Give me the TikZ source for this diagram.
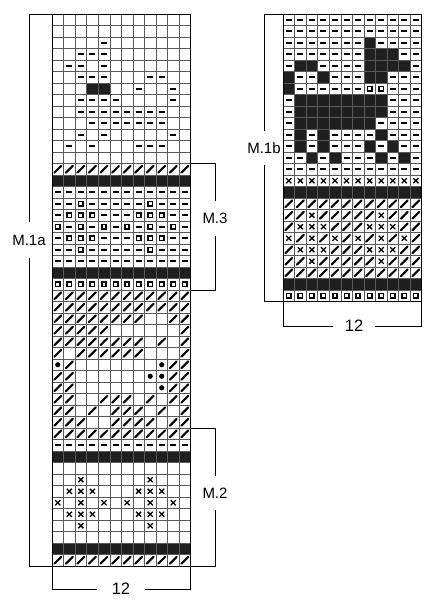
\documentclass[tikz,border=0pt]{standalone}
\usepackage{fontspec}
\setmainfont{Liberation Sans}
\tikzset{
  gridline/.style={black!65, line width=0.5pt},
  chartframe/.style={black, line width=0.9pt},
  bracket/.style={black, line width=0.8pt},
  chartlabel/.style={inner sep=0pt, font=\fontsize{15}{18}\selectfont},
  widthlabel/.style={inner sep=0pt, font=\fontsize{16.5}{19}\selectfont},
  pics/knitdash/.style={code={\draw[line width=2.4pt] (-0.26,0) -- (0.26,0);}},
  pics/knitslash/.style={code={\draw[line width=2.1pt, line cap=round] (-0.3,0.3) -- (0.3,-0.3);}},
  pics/knitblack/.style={code={\fill[black!88] (-0.5,-0.5) rectangle (0.5,0.5);}},
  pics/knitsquare/.style={code={\draw[line width=1.6pt] (-0.19,-0.19) rectangle (0.19,0.19);}},
  pics/knitcross/.style={code={\draw[line width=1.3pt] (-0.22,-0.22) -- (0.22,0.22) (-0.22,0.22) -- (0.22,-0.22);}},
  pics/knitdot/.style={code={\fill (0,0) circle (2.6pt);}},
}
% one symbol in many cells: row/{columns}
\newcommand\knitcells[2]{\foreach \r/\cols in {#2} {\foreach \c in \cols {\pic at (\c-0.5,\r-0.5) {#1};}}}
% grid of 12 columns and #1 rows
\newcommand\knitgrid[1]{%
  \foreach \c in {0,...,12} \draw[gridline] (\c,0) -- (\c,#1);
  \foreach \r in {0,...,#1} \draw[gridline] (0,\r) -- (12,\r);
  \draw[chartframe] (0,0) rectangle (12,#1);}

\begin{document}
\begin{tikzpicture}[x=1pt, y=-1pt]
\useasboundingbox (0,0) rectangle (433,601);
% M.1a chart
\begin{scope}[shift={(52,14)}, x=11.55pt, y=-11.5pt]
\knitcells{knitblack}{7/{4,5}, 15/{1,...,12}, 23/{1,...,12}, 39/{1,...,12}, 47/{1,...,12}}
\knitgrid{48}
\knitcells{knitdash}{3/{5}, 4/{3,4,5}, 5/{2,3,5}, 6/{3,4,5,9,10}, 7/{8,11}, 8/{3,4,5,6,11},
  9/{3,...,10}, 10/{4,...,10}, 11/{3,5,11}, 12/{2,4,8,9,10}, 16/{1,...,12},
  17/{1,2,4,5,6,7,8,10,11,12}, 18/{1,5,6,7,11,12}, 19/{2,4,6,8,10,12}, 20/{1,5,6,7,11,12},
  21/{1,2,4,5,6,7,8,10,11,12}, 22/{1,...,12}, 38/{1,...,12}}
\knitcells{knitsquare}{17/{3,9}, 18/{2,3,4,8,9,10}, 19/{1,3,5,7,9,11}, 20/{2,3,4,8,9,10}, 21/{3,9}, 24/{1,...,12}}
\knitcells{knitslash}{14/{1,...,12}, 25/{1,...,12}, 26/{1,...,12}, 27/{1,2,3,4,5,6,7,8,11,12},
  28/{1,2,3,4,5,12}, 29/{1,2,3,4,5,6,7,8,10,12}, 30/{1,3,4,5,6,7,8,12}, 31/{2,11,12},
  32/{1,2,11,12}, 33/{1,2,11,12}, 34/{1,2,5,6,7,9,11,12}, 35/{1,2,4,6,7,8,10,12},
  36/{1,2,3,6,7,8,9,11,12}, 37/{1,...,12}, 48/{1,...,12}}
\knitcells{knitdot}{31/{1,10}, 32/{9,10}, 33/{10}}
\knitcells{knitcross}{41/{3,9}, 42/{2,3,4,8,9,10}, 43/{1,3,5,7,9,11}, 44/{2,3,4,8,9,10}, 45/{3,9}}
\end{scope}
% M.1b chart
\begin{scope}[shift={(283,14)}, x=11.55pt, y=-11.5pt]
\knitcells{knitblack}{3/{8}, 4/{8,9,10}, 5/{2,3,8,9,10,11}, 6/{1,4,8,9}, 7/{1}, 8/{2,...,9},
  9/{2,...,9}, 10/{2,...,8}, 11/{2,4,9}, 12/{2,4,8,10}, 13/{3,5,9,11}, 16/{1,...,12}, 24/{1,...,12}}
\knitgrid{25}
\knitcells{knitdash}{1/{1,...,12}, 2/{1,...,12}, 3/{1,2,3,4,5,6,7,9,10,11,12}, 4/{1,2,3,4,5,6,7,11,12},
  5/{1,4,5,6,7,12}, 6/{2,3,5,6,7,10,11,12}, 7/{2,3,4,5,6,7,10,11,12}, 8/{1,10,11,12},
  9/{1,10,11,12}, 10/{1,9,10,11,12}, 11/{1,3,5,6,7,8,10,11,12}, 12/{1,3,5,6,7,9,11,12},
  13/{1,2,4,6,7,8,10,12}, 14/{1,...,12}}
\knitcells{knitsquare}{7/{8,9}, 25/{1,...,12}}
\knitcells{knitcross}{15/{1,...,12}, 18/{3,9}, 19/{2,3,4,8,9,10}, 20/{1,3,5,7,9,11}, 21/{2,3,4,8,9,10}, 22/{3,9}}
\knitcells{knitslash}{17/{1,...,12}, 18/{1,2,4,5,6,7,8,10,11,12}, 19/{1,5,6,7,11,12},
  20/{2,4,6,8,10,12}, 21/{1,5,6,7,11,12}, 22/{1,2,4,5,6,7,8,10,11,12}, 23/{1,...,12}}
\end{scope}
% Brackets and labels
\coordinate (a-top) at (52,14);
\coordinate (a-bot) at (52,566);
\coordinate (a-rbot) at (190.6,566);
\coordinate (m3-top) at (190.6,163.5);
\coordinate (m3-bot) at (190.6,290);
\coordinate (m2-top) at (190.6,428);
\coordinate (b-top) at (283,14);
\coordinate (b-bot) at (283,301.5);
\coordinate (b-rbot) at (421.6,301.5);
\node[chartlabel, minimum height=35pt] (m1a) at (29,240) {M.1a};
\node[chartlabel, minimum height=34pt] (m3) at (215,218.5) {M.3};
\node[chartlabel, minimum height=34pt] (m2) at (215,493) {M.2};
\node[chartlabel, minimum height=34pt] (m1b) at (264,148) {M.1b};
\node[widthlabel, minimum width=47pt] (w-a) at (121,589) {12};
\node[widthlabel, minimum width=42pt] (w-b) at (354,326) {12};
\draw[bracket] (a-top) -| (m1a.north);
\draw[bracket] (a-bot) -| (m1a.south);
\draw[bracket] (m3-top) -| (m3.north);
\draw[bracket] (m3-bot) -| (m3.south);
\draw[bracket] (m2-top) -| (m2.north);
\draw[bracket] (a-rbot) -| (m2.south);
\draw[bracket] (b-top) -| (m1b.north);
\draw[bracket] (b-bot) -| (m1b.south);
\draw[bracket] (a-bot) |- (w-a.west);
\draw[bracket] (a-rbot) |- (w-a.east);
\draw[bracket] (b-bot) |- (w-b.west);
\draw[bracket] (b-rbot) |- (w-b.east);
\end{tikzpicture}
\end{document}
